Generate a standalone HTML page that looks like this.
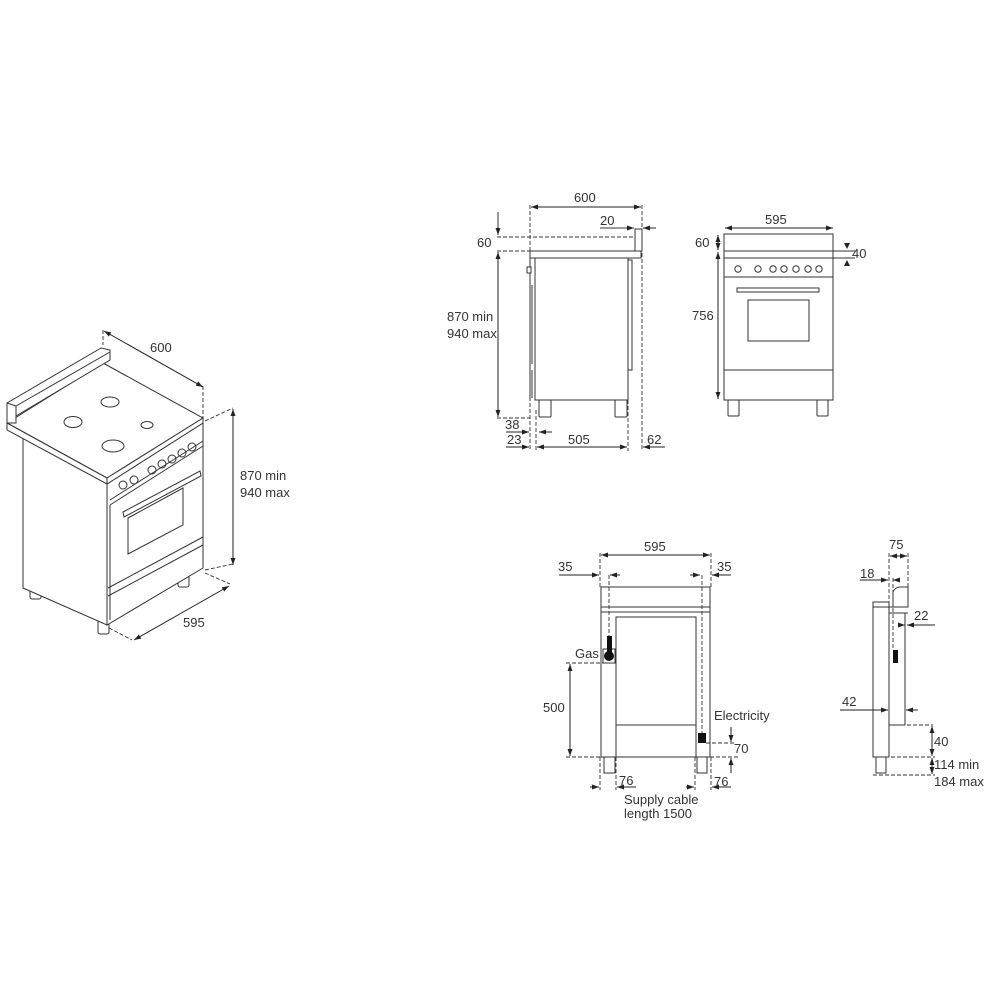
<!DOCTYPE html>
<html><head><meta charset="utf-8"><style>
html,body{margin:0;padding:0;background:#fff}
svg{display:block}
text{font-family:"Liberation Sans",sans-serif;font-size:13px;fill:#333}
.l{stroke:#333;stroke-width:1;fill:none}
.f{stroke:#333;stroke-width:1;fill:#fff}
.d{stroke:#333;stroke-width:0.9;fill:none;stroke-dasharray:4,2}
.a{stroke:#222;stroke-width:1;fill:none;marker-start:url(#ar);marker-end:url(#ar)}
.a1{stroke:#222;stroke-width:1;fill:none;marker-end:url(#ar)}
</style></head><body>
<svg width="1000" height="1000" viewBox="0 0 1000 1000" xmlns="http://www.w3.org/2000/svg">
<defs>
<marker id="ar" viewBox="0 0 10 10" refX="10" refY="5" markerWidth="7" markerHeight="7" orient="auto-start-reverse"><path d="M0,1.5 L10,5 L0,8.5 z" fill="#222"/></marker>
</defs>

<g>
<rect class="f" x="30" y="585" width="11" height="14" rx="2"/>
<rect class="f" x="98" y="618" width="11" height="16" rx="2"/>
<rect class="f" x="178" y="575" width="11" height="12" rx="2"/>
<polygon class="f" points="23,432 107,484 107,625 23,588"/>
<polygon class="f" points="107,484 203,423 203,568 107,625"/>
<polygon class="f" points="7,423 103,363 203,418 107,478"/>
<polygon class="f" points="7,423 107,478 107,484 7,430"/>
<polygon class="f" points="107,478 203,418 203,423 107,484"/>
<polygon class="f" points="7,403 101,348 110,350 110,360 16,416 16,423 7,423"/>
<line class="l" x1="7" y1="403" x2="16" y2="406"/>
<line class="l" x1="16" y1="406" x2="16" y2="417"/>
<line class="l" x1="16" y1="406" x2="110" y2="352"/>
<ellipse class="l" cx="110" cy="402" rx="9" ry="5"/>
<ellipse class="l" cx="73" cy="422" rx="9" ry="5.5"/>
<ellipse class="l" cx="147" cy="425" rx="6" ry="3.5"/>
<ellipse class="l" cx="113" cy="446" rx="11" ry="6"/>
<line class="l" x1="110" y1="500" x2="203" y2="441"/>
<line class="l" x1="110" y1="505" x2="203" y2="446"/>
<g class="l">
<circle cx="123" cy="485" r="4"/><circle cx="134" cy="480" r="4"/>
<circle cx="152" cy="470" r="4"/><circle cx="162" cy="464" r="4"/>
<circle cx="172" cy="459" r="4"/><circle cx="182" cy="453" r="4"/><circle cx="192" cy="447" r="4"/>
</g>
<line class="l" x1="110" y1="505" x2="110" y2="620"/>
<polygon class="l" points="123,512 200,471 201,476 124,517"/>
<polygon class="l" points="128,518 183,488 183,525 128,554"/>
<line class="l" x1="108" y1="588" x2="203" y2="537"/>
<line class="l" x1="108" y1="596" x2="203" y2="545"/>
<line class="d" x1="103" y1="330" x2="103" y2="345"/>
<line class="d" x1="203" y1="386" x2="203" y2="418"/>
<line class="a" x1="104" y1="331" x2="203" y2="387"/>
<text x="150" y="352">600</text>
<line class="d" x1="205" y1="421" x2="233" y2="408"/>
<line class="d" x1="205" y1="570" x2="233" y2="564"/>
<line class="a" x1="233" y1="409" x2="233" y2="565"/>
<text x="240" y="480">870 min</text>
<text x="240" y="497">940 max</text>
<line class="d" x1="205" y1="573" x2="230" y2="584"/>
<line class="d" x1="109" y1="628" x2="132" y2="640"/>
<line class="a" x1="134" y1="640" x2="229" y2="586"/>
<text x="183" y="627">595</text>
</g>

<g>
<line class="d" x1="530" y1="205" x2="530" y2="451"/>
<line class="d" x1="642" y1="205" x2="642" y2="451"/>
<line class="d" x1="628" y1="400" x2="628" y2="451"/>
<line class="d" x1="536" y1="410" x2="536" y2="451"/>
<line class="a" x1="531" y1="207" x2="641" y2="207"/>
<text x="574" y="202">600</text>
<line class="l" x1="600" y1="228" x2="634" y2="228" style="marker-end:url(#ar)"/>
<line class="a1" x1="656" y1="228" x2="643" y2="228"/>
<text x="600" y="225">20</text>
<line class="d" x1="497" y1="237" x2="640" y2="237"/>
<line class="d" x1="497" y1="251" x2="530" y2="251"/>
<line class="d" x1="497" y1="418" x2="530" y2="418"/>
<line class="l" x1="498" y1="212" x2="498" y2="235" style="marker-end:url(#ar)"/>
<line class="a" x1="498" y1="252" x2="498" y2="417"/>
<text x="477" y="247">60</text>
<text x="447" y="321">870 min</text>
<text x="447" y="338">940 max</text>
<rect class="f" x="530" y="251" width="111" height="7"/>
<rect class="f" x="635" y="229" width="7" height="22"/>
<rect class="f" x="535" y="258" width="93" height="142"/>
<polyline class="l" points="628,260 632,260 632,370 628,370"/>
<line class="l" x1="530" y1="258" x2="530" y2="400"/>
<rect class="f" x="527" y="267" width="4" height="6"/>
<line class="l" x1="532" y1="285" x2="532" y2="364"/>
<line class="l" x1="532" y1="370" x2="532" y2="398"/>
<rect class="f" x="539" y="400" width="12" height="17" rx="1"/>
<rect class="f" x="615" y="400" width="12" height="17" rx="1"/>
<line class="a1" x1="506" y1="432" x2="529" y2="432"/>
<line class="a1" x1="552" y1="432" x2="539" y2="432"/>
<text x="505" y="429">38</text>
<line class="a1" x1="506" y1="447" x2="529" y2="447"/>
<text x="507" y="444">23</text>
<line class="a" x1="537" y1="447" x2="627" y2="447"/>
<text x="568" y="444">505</text>
<line class="a1" x1="665" y1="447" x2="643" y2="447"/>
<text x="647" y="444">62</text>
</g>

<g>
<line class="a" x1="725" y1="228" x2="833" y2="228"/>
<text x="765" y="224">595</text>
<rect class="f" x="724" y="234" width="109" height="166"/>
<line class="l" x1="724" y1="251" x2="833" y2="251"/>
<line class="l" x1="724" y1="258" x2="833" y2="258"/>
<line class="l" x1="724" y1="277" x2="833" y2="277"/>
<g class="l">
<circle cx="738" cy="269" r="3.2"/><circle cx="758" cy="269" r="3.2"/><circle cx="773" cy="269" r="3.2"/>
<circle cx="784" cy="269" r="3.2"/><circle cx="796" cy="269" r="3.2"/><circle cx="808" cy="269" r="3.2"/><circle cx="819" cy="269" r="3.2"/>
</g>
<rect class="l" x="737" y="288" width="82" height="4"/>
<rect class="l" x="748" y="300" width="61" height="41"/>
<line class="l" x1="724" y1="370" x2="833" y2="370"/>
<rect class="f" x="728" y="400" width="11" height="16" rx="1"/>
<rect class="f" x="817" y="400" width="11" height="16" rx="1"/>
<line class="a" x1="718" y1="235" x2="718" y2="250"/>
<line class="a" x1="718" y1="252" x2="718" y2="399"/>
<text x="695" y="247">60</text>
<text x="692" y="320">756</text>
<line class="l" x1="833" y1="251" x2="855" y2="251"/>
<line class="l" x1="833" y1="258" x2="855" y2="258"/>
<path d="M844,243 L850,243 L847,249 z" fill="#222"/>
<path d="M844,266 L850,266 L847,260 z" fill="#222"/>
<text x="852" y="258">40</text>
</g>

<g>
<line class="d" x1="600" y1="553" x2="600" y2="587"/>
<line class="d" x1="711" y1="553" x2="711" y2="587"/>
<line class="a" x1="601" y1="555" x2="710" y2="555"/>
<text x="644" y="551">595</text>
<line class="a1" x1="559" y1="575" x2="599" y2="575"/>
<line class="a1" x1="620" y1="575" x2="610" y2="575"/>
<text x="558" y="571">35</text>
<line class="a1" x1="690" y1="575" x2="700" y2="575"/>
<line class="a1" x1="731" y1="575" x2="712" y2="575"/>
<text x="717" y="571">35</text>
<rect class="f" x="601" y="587" width="109" height="170"/>
<line class="l" x1="601" y1="607" x2="710" y2="607"/>
<line class="l" x1="601" y1="612" x2="710" y2="612"/>
<rect class="l" x="616" y="617" width="80" height="108"/>
<line class="l" x1="616" y1="725" x2="616" y2="757"/>
<line class="l" x1="696" y1="725" x2="696" y2="757"/>
<line class="d" x1="609" y1="575" x2="609" y2="640"/>
<line class="d" x1="702" y1="575" x2="702" y2="735"/>
<rect class="f" x="603" y="649" width="12" height="14"/>
<rect x="607" y="636" width="5" height="16" fill="#111"/>
<circle cx="609" cy="656" r="5" fill="#111"/>
<text x="575" y="658">Gas</text>
<line class="d" x1="566" y1="663" x2="603" y2="663"/>
<line class="d" x1="566" y1="757" x2="738" y2="757"/>
<line class="a" x1="570" y1="664" x2="570" y2="756"/>
<text x="543" y="712">500</text>
<text x="714" y="720">Electricity</text>
<rect x="698" y="733" width="8" height="10" fill="#111"/>
<line class="d" x1="706" y1="743" x2="735" y2="743"/>
<line class="a1" x1="731" y1="727" x2="731" y2="742"/>
<line class="a1" x1="731" y1="773" x2="731" y2="758"/>
<text x="734" y="753">70</text>
<rect class="f" x="604" y="757" width="11" height="16"/>
<rect class="f" x="697" y="757" width="10" height="16"/>
<line class="d" x1="600" y1="757" x2="600" y2="790"/>
<line class="d" x1="616" y1="757" x2="616" y2="790"/>
<line class="d" x1="695" y1="757" x2="695" y2="790"/>
<line class="d" x1="711" y1="757" x2="711" y2="790"/>
<line class="a1" x1="590" y1="787" x2="599" y2="787"/>
<line class="a1" x1="636" y1="787" x2="617" y2="787"/>
<text x="619" y="785">76</text>
<line class="a1" x1="686" y1="787" x2="694" y2="787"/>
<line class="a1" x1="731" y1="787" x2="712" y2="787"/>
<text x="714" y="786">76</text>
<text x="624" y="804">Supply cable</text>
<text x="624" y="818">length 1500</text>
</g>

<g>
<line class="d" x1="889" y1="553" x2="889" y2="602"/>
<line class="d" x1="908" y1="553" x2="908" y2="588"/>
<line class="a" x1="890" y1="556" x2="907" y2="556"/>
<text x="889" y="549">75</text>
<line class="a1" x1="860" y1="580" x2="888" y2="580"/>
<line class="a1" x1="900" y1="580" x2="893" y2="580"/>
<text x="860" y="578">18</text>
<line class="d" x1="893" y1="578" x2="893" y2="650"/>
<rect class="f" x="873" y="602" width="16" height="155"/>
<rect class="f" x="873" y="602" width="16" height="5"/>
<path class="f" d="M893,607 L893,592 Q895,587 900,587 L908,587 L908,607 Z"/>
<line class="l" x1="889" y1="607" x2="908" y2="607"/>
<line class="l" x1="889" y1="613" x2="908" y2="613"/>
<rect class="l" x="889" y="613" width="16" height="112"/>
<line class="l" x1="889" y1="725" x2="889" y2="757"/>
<rect x="893" y="650" width="5" height="13" fill="#111"/>
<line class="a1" x1="898" y1="625" x2="905" y2="625"/>
<line class="a1" x1="935" y1="625" x2="907" y2="625"/>
<text x="914" y="620">22</text>
<line class="a1" x1="840" y1="710" x2="888" y2="710"/>
<line class="a1" x1="918" y1="710" x2="906" y2="710"/>
<text x="842" y="706">42</text>
<line class="d" x1="889" y1="725" x2="933" y2="725"/>
<line class="d" x1="873" y1="757" x2="935" y2="757"/>
<line class="d" x1="873" y1="775" x2="935" y2="775"/>
<line class="a" x1="932" y1="726" x2="932" y2="756"/>
<line class="a" x1="932" y1="758" x2="932" y2="774"/>
<text x="934" y="746">40</text>
<text x="934" y="769">114 min</text>
<text x="934" y="786">184 max</text>
<rect class="f" x="876" y="757" width="10" height="16"/>
</g>
</svg>
</body></html>
